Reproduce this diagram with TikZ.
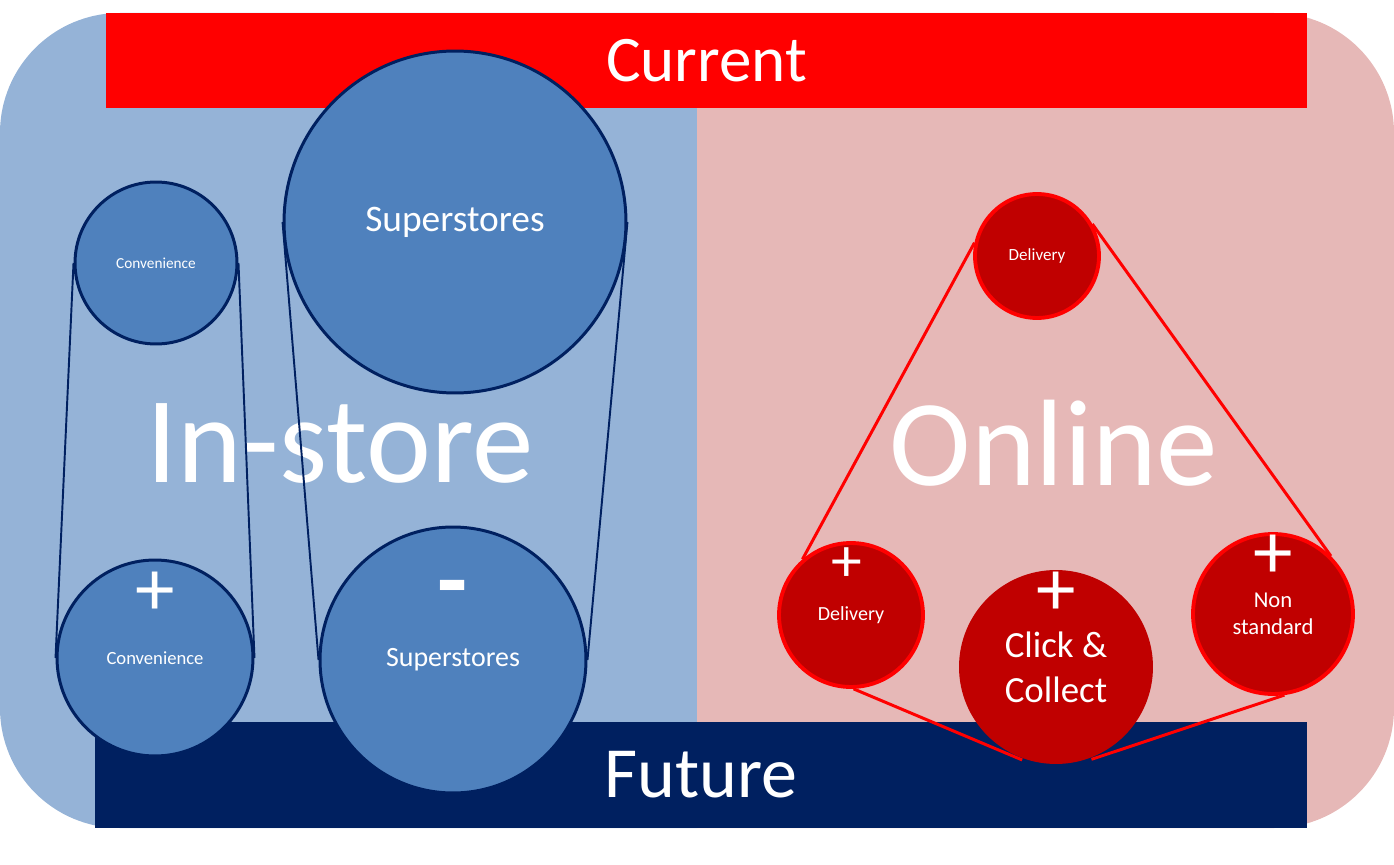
\documentclass[tikz,border=0pt]{standalone}
\usepackage{fontspec}
\setmainfont{Carlito}
\usepackage{xcolor}
\definecolor{instorebg}{HTML}{95B3D7}
\definecolor{onlinebg}{HTML}{E6B8B7}
\definecolor{storefill}{HTML}{4F81BD}
\definecolor{navy}{HTML}{002060}
\definecolor{darkred}{HTML}{C00000}

\begin{document}
\begin{tikzpicture}[x=0.02cm, y=-0.02cm,
    store/.style={circle, draw=navy, line width=1.7pt, fill=storefill, text=white, inner sep=0pt},
    web/.style={circle, draw=red, line width=2.2pt, fill=darkred, text=white, align=center, inner sep=0pt},
    bar/.style={rectangle, text=white, inner sep=0pt, outer sep=0pt},
    big/.style={text=white, inner sep=0pt, font=\fontsize{70pt}{70pt}\selectfont},
    sign/.style={text=white, inner sep=0pt, text depth=-4pt, font=\fontsize{45pt}{45pt}\selectfont}]
    \useasboundingbox (0,0) rectangle (1394,865);

    % background halves
    \begin{scope}
        \clip (0,0) rectangle (697,865);
        \fill[instorebg, rounded corners=2.4cm] (0,13) rectangle (1394,828);
    \end{scope}
    \begin{scope}
        \clip (697,0) rectangle (1394,865);
        \fill[onlinebg, rounded corners=2.4cm] (0,13) rectangle (1394,828);
    \end{scope}

    % bars
    \node[bar, fill=red, minimum width=24.02cm, minimum height=1.9cm, font=\fontsize{37pt}{37pt}\selectfont] (current) at (706.5,60.5) {Current};
    \node[bar, fill=navy, minimum width=24.24cm, minimum height=2.12cm, font=\fontsize{41pt}{41pt}\selectfont] (future) at (701,775) {Future};

    % big labels
    \node[big] (instore) at (340,443) {In-store};
    \node[big] (online) at (1054,443) {Online};

    % in-store circles
    \node[store, minimum size=3.24cm, font=\fontsize{8.7pt}{10pt}\selectfont] (conv1) at (156,263) {Convenience};
    \node[store, minimum size=6.84cm, font=\fontsize{21.3pt}{25pt}\selectfont] (sup1) at (455,222) {Superstores};
    \node[store, minimum size=3.92cm, font=\fontsize{10.6pt}{12pt}\selectfont] (conv2) at (155,658) {Convenience};
    \node[store, minimum size=5.32cm, font=\fontsize{15.9pt}{19pt}\selectfont] (sup2) at (453,660) {Superstores};
    \node[sign] (conv2s) at (155,594) {+};
    \node[sign, font=\bfseries\fontsize{56pt}{56pt}\selectfont] (sup2s) at (453,597) {-};

    \draw[navy, line width=1.1pt] (conv1.west) -- (conv2.west);
    \draw[navy, line width=1.1pt] (conv1.east) -- (conv2.east);
    \draw[navy, line width=1.1pt] (sup1.west) -- (sup2.west);
    \draw[navy, line width=1.1pt] (sup1.east) -- (sup2.east);

    % online circles
    \node[web, minimum size=2.48cm, font=\fontsize{9.7pt}{11pt}\selectfont] (del1) at (1037,256) {Delivery};
    \node[web, minimum size=2.88cm, font=\fontsize{11.4pt}{13pt}\selectfont] (del2) at (851,615) {Delivery};
    \node[web, draw=none, minimum size=3.88cm, font=\fontsize{21pt}{25.5pt}\selectfont] (click) at (1056,667) {Click \&\\Collect};
    \node[web, minimum size=3.2cm, font=\fontsize{12.9pt}{15.3pt}\selectfont] (nonst) at (1273,614) {Non\\standard};
    \node[sign, font=\fontsize{35pt}{35pt}\selectfont] (del2s) at (847,565) {+};
    \node[sign] (clicks) at (1056,594) {+};
    \node[sign, text depth=-12pt] (nonsts) at (1273,557) {+};

    \draw[red, line width=1.7pt] (del1.168) -- (del2.131);
    \draw[red, line width=1.7pt] (del1.30) -- (nonst.45);
    \draw[red, line width=1.7pt] (del2.-88) -- (click.-110);
    \draw[red, line width=1.7pt] (nonst.-82) -- (click.-69);
\end{tikzpicture}
\end{document}
